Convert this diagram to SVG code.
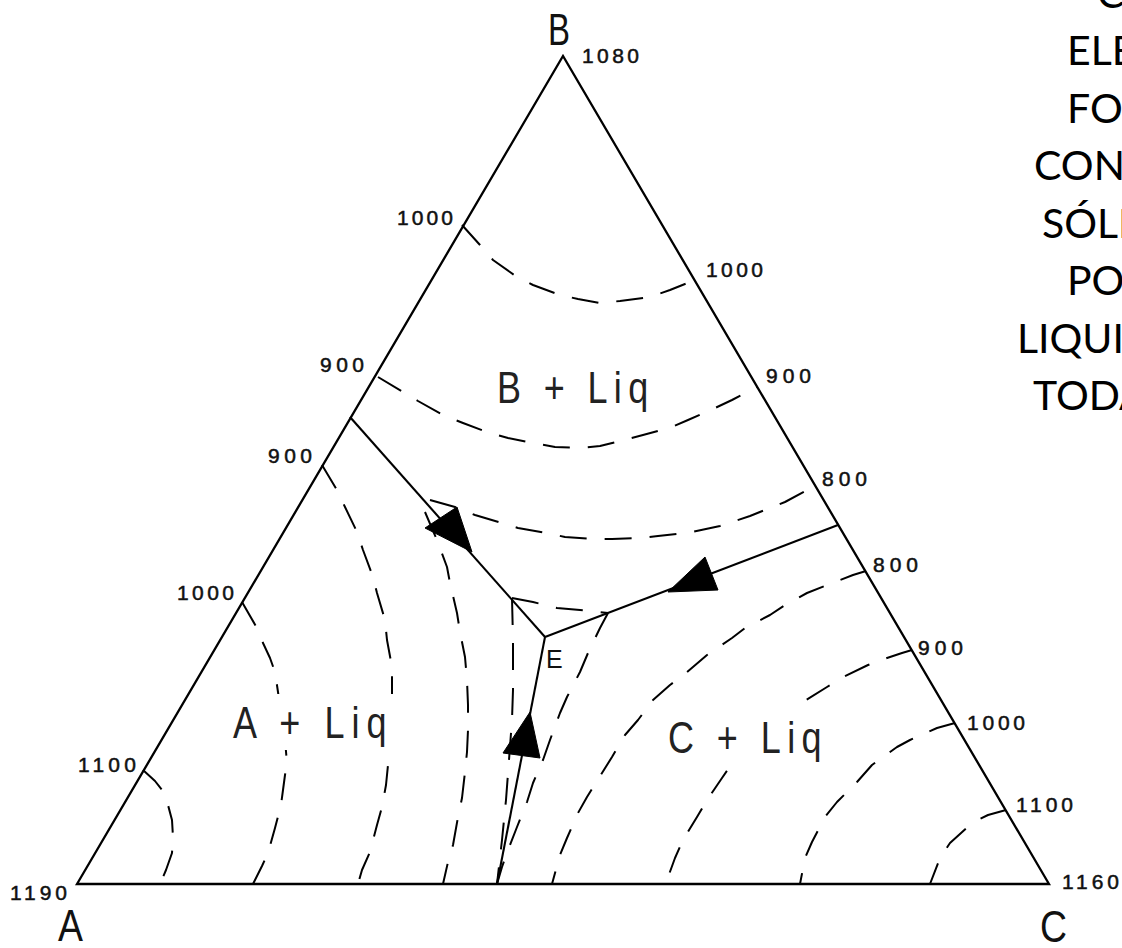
<svg xmlns="http://www.w3.org/2000/svg" width="1122" height="948" viewBox="0 0 1122 948">
<style>
.edge{fill:none;stroke:#000;stroke-width:2.3;stroke-linejoin:miter}
.sol{fill:none;stroke:#000;stroke-width:2.1}
.iso{fill:none;stroke:#000;stroke-width:2;stroke-dasharray:27 18;stroke-linejoin:round}
.num{font-family:'Liberation Sans',Arial,sans-serif;font-size:21px;fill:#111;stroke:#111;stroke-width:0.5}
.big{font-family:'Liberation Sans',Arial,sans-serif;font-size:44px;fill:#111}
.reg{font-family:'Liberation Sans',Arial,sans-serif;font-size:45px;fill:#222}
.side{font-family:Lato,'Open Sans',sans-serif;font-size:41px;fill:#000}
.arr{fill:#000;stroke:#000;stroke-width:1}
</style>
<rect width="1122" height="948" fill="#fff"/>
<g id="triangle">
<polygon class="edge" points="77,884 563,56 1049,884"/>
</g>
<g id="isotherms">
<polyline class="iso" points="462,225 480,245 493,260 517,277 533,285 560,295 578,299 600,303 620,301 650,297 670,290 690,282 696,279"/>
<polyline class="iso" points="378,377 403,392 418,401 443,415 463,423 487,432 508,438 533,443 555,447 580,448 600,446 620,441 643,435 672,427 688,420 715,408 732,400 757,387"/>
<polyline class="iso" points="430,500 455,507 475,515 502,523 518,528 547,533 565,537 593,539 612,539 640,538 658,536 687,533 720,526 750,516 785,502 815,486"/>
<polyline class="iso" points="512,598 533,602 557,608 580,610 608,613"/>
<polyline class="iso" points="143,770 155,781 162,790 168,805 172,820 173,837 172,853 166,870 160,884"/>
<polyline class="iso" points="242,602 257,628 263,643 270,658 275,672 278,692 282,720 285,740 287,763 285,775 283,790 281,805 275,828 268,853 262,866 253,884"/>
<polyline class="iso" points="322,465 337,490 345,507 357,532 363,550 373,577 377,593 385,620 387,640 392,667 392,688 392,720 390,752 388,765 386,785 382,807 377,825 370,852 362,870 358,884"/>
<polyline class="iso" points="425,512 437,540 447,567 450,583 457,613 460,632 465,657 467,680 468,705 468,730 467,752 465,772 462,798 458,817 453,845 448,862 443,884"/>
<polyline class="iso" points="512,598 513,640 513,690 512,720 509,760 506,800 502,840 497,884"/>
<polyline class="iso" points="608,613 600,628 588,653 580,672 567,697 560,713 550,740 543,760 533,783 527,802 517,827 508,850 502,867 497,884"/>
<polyline class="iso" points="866,571 853,575 827,585 807,593 785,605 770,615 745,628 732,638 707,655 687,672 670,685 653,700 638,720 625,735 612,757 602,773 587,797 578,813 567,838 560,855 552,884"/>
<polyline class="iso" points="912,650 902,653 887,658 868,665 843,677 827,687 803,702 770,725 740,752 722,778 707,800 697,817 683,840 675,858 667,880 665,884"/>
<polyline class="iso" points="955,723 937,728 910,740 897,747 872,765 857,782 837,802 825,817 812,842 805,858 800,884"/>
<polyline class="iso" points="1006,810 988,815 972,823 950,843 940,858 930,884"/>
</g>
<g id="connectors">
<line class="sol" x1="350" y1="417" x2="545" y2="637"/>
<line class="sol" x1="838" y1="525" x2="545" y2="637"/>
<line class="sol" x1="497" y1="884" x2="545" y2="637"/>
<polygon class="arr" points="425,528 457,507 472,552"/>
<polygon class="arr" points="668,592 705,557 718,590"/>
<polygon class="arr" points="530,712 503,753 540,758"/>
</g>
<g id="label-masks" fill="#fff">
<rect x="230" y="694" width="166" height="56"/>
<rect x="664" y="708" width="162" height="62"/>
</g>
<g id="regions">
<text class="reg" transform="translate(497,403) scale(0.8,1)" textLength="189" lengthAdjust="spacing">B + Liq</text>
<text class="reg" transform="translate(233,738) scale(0.8,1)" textLength="192" lengthAdjust="spacing">A + Liq</text>
<text class="reg" transform="translate(668,753) scale(0.8,1)" textLength="192" lengthAdjust="spacing">C + Liq</text>
<text class="big" x="546" y="668" style="font-size:25px">E</text>
</g>
<g id="vertices">
<text class="big" transform="translate(548,45) scale(0.75,1)">B</text>
<text class="big" transform="translate(58,941) scale(0.85,1)">A</text>
<text class="big" transform="translate(1040,942) scale(0.85,1)">C</text>
</g>
<g id="temps">
<text class="num" x="582" y="63" textLength="57">1080</text>
<text class="num" x="397" y="225" textLength="56">1000</text>
<text class="num" x="320" y="372" textLength="44">900</text>
<text class="num" x="268" y="463" textLength="44">900</text>
<text class="num" x="177" y="600" textLength="57">1000</text>
<text class="num" x="78" y="772" textLength="58">1100</text>
<text class="num" x="10" y="900" textLength="57">1190</text>
<text class="num" x="706" y="277" textLength="57">1000</text>
<text class="num" x="766" y="383" textLength="45">900</text>
<text class="num" x="822" y="486" textLength="45">800</text>
<text class="num" x="873" y="572" textLength="45">800</text>
<text class="num" x="918" y="655" textLength="45">900</text>
<text class="num" x="967" y="730" textLength="58">1000</text>
<text class="num" x="1016" y="812" textLength="57">1100</text>
<text class="num" x="1062" y="889" textLength="57">1160</text>
</g>
<g id="side-text">
<text class="side" x="1097" y="8">C</text>
<text class="side" x="1067" y="65">ELE</text>
<text class="side" x="1067" y="123">FOR</text>
<text class="side" x="1034" y="180">CON</text>
<text class="side" x="1042" y="238">SÓLI</text>
<text class="side" x="1067" y="295">PO</text>
<text class="side" x="1017" y="353">LIQUI</text>
<text class="side" x="1033" y="410">TODA</text>
</g>
</svg>
